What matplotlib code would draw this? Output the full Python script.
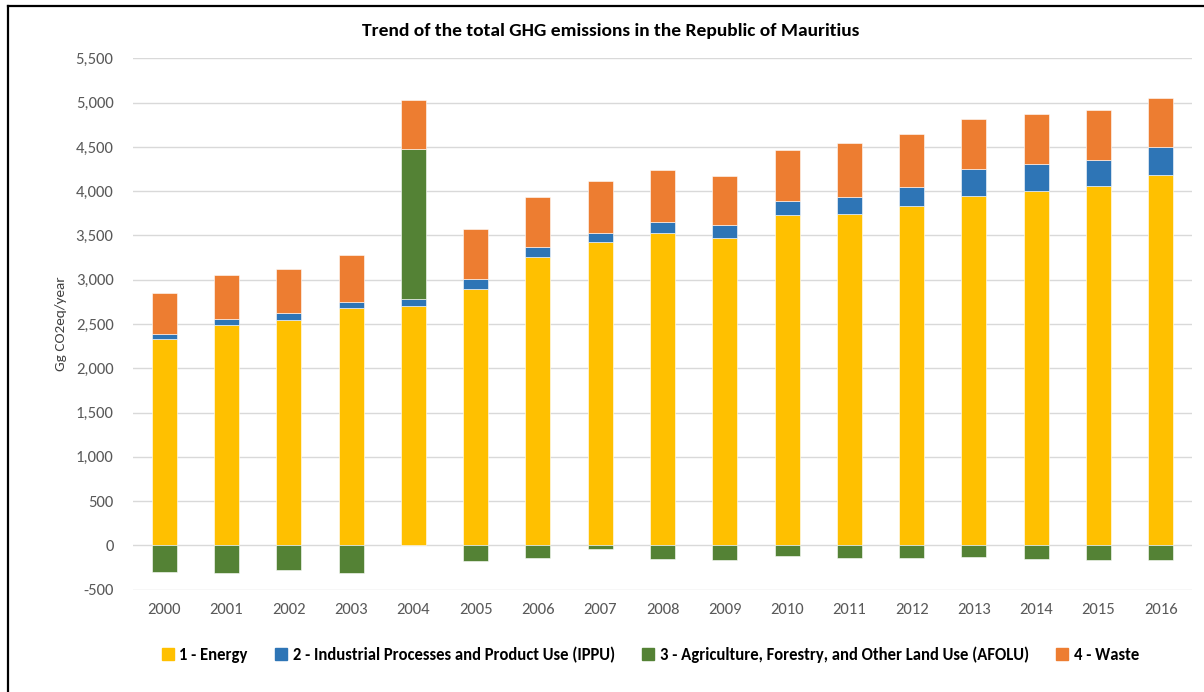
import numpy as np
import matplotlib
matplotlib.use('Agg')
from matplotlib import pyplot as plt
from matplotlib.lines import Line2D

plt.rcParams['font.family'] = ['Carlito', 'Open Sans', 'DejaVu Sans']

# GHG emissions by sector, Gg CO2eq/year
years = [str(y) for y in range(2000, 2017)]
energy = [2327, 2492, 2545, 2677, 2703, 2892, 3257, 3422, 3524, 3471, 3727, 3746, 3837, 3949, 4006, 4059, 4179]
ippu = [64, 64, 75, 75, 76, 112, 109, 102, 124, 143, 158, 188, 210, 298, 297, 297, 316]
afolu = [-305, -316, -275, -316, 1698, -181, -147, -45, -158, -166, -124, -147, -139, -132, -154, -162, -169]
waste = [459, 494, 497, 527, 549, 565, 568, 591, 591, 558, 584, 607, 599, 572, 569, 557, 554]

labels = ['1 - Energy', '2 - Industrial Processes and Product Use (IPPU)',
          '3 - Agriculture, Forestry, and Other Land Use (AFOLU)', '4 - Waste']
colors = ['#FFC000', '#2E75B6', '#548235', '#ED7D31']

energy = np.array(energy)
ippu = np.array(ippu)
afolu = np.array(afolu)
waste = np.array(waste)
x = np.arange(len(years))

fig = plt.figure(figsize=(12.04, 6.92), dpi=100)
ax = fig.add_axes([0.1105, 0.148, 0.8795, 0.7676])

w = 0.4
ec = dict(edgecolor='white', linewidth=0.4)
ax.bar(x, energy, w, color=colors[0], zorder=3, **ec)
ax.bar(x, ippu, w, bottom=energy, color=colors[1], zorder=3, **ec)
# positive AFOLU sits above IPPU, negative goes below zero
afolu_bottom = np.where(afolu >= 0, energy + ippu, 0)
ax.bar(x, afolu, w, bottom=afolu_bottom, color=colors[2], zorder=3, **ec)
ax.bar(x, waste, w, bottom=energy + ippu + np.clip(afolu, 0, None), color=colors[3], zorder=3, **ec)

ax.set_xlim(-0.5, len(years) - 0.5)
ax.set_ylim(-500, 5500)
ax.set_yticks(np.arange(-500, 5501, 500))
ax.set_yticklabels([f'{v:,}' for v in range(-500, 5501, 500)])
ax.set_xticks(x)
ax.set_xticklabels(years)
ax.grid(axis='y', color='#D9D9D9', linewidth=1.0, zorder=0)
for s in ax.spines.values():
    s.set_visible(False)
ax.tick_params(axis='both', length=0, labelsize=12, labelcolor='#595959')
ax.tick_params(axis='y', pad=14)
ax.tick_params(axis='x', pad=10)
ax.set_ylabel('Gg CO2eq/year', fontsize=11, color='#404040', labelpad=6)

fig.text(0.507, 0.955, 'Trend of the total GHG emissions in the Republic of Mauritius',
         ha='center', va='center', fontsize=14, fontweight='bold', color='black')

handles = [Line2D([], [], marker='s', linestyle='none', markersize=8, color=c) for c in colors]
fig.legend(handles, labels, loc='center', bbox_to_anchor=(0.54, 0.0535), ncol=4,
           frameon=False, handlelength=0.8, handletextpad=0.3, columnspacing=1.6,
           prop={'weight': 'bold', 'size': 12})

# frame lines along top and left
fig.add_artist(Line2D([8 / 1204, 1], [1 - 6 / 692, 1 - 6 / 692], color='black', linewidth=1.6,
                      transform=fig.transFigure))
fig.add_artist(Line2D([8 / 1204, 8 / 1204], [0, 1 - 6 / 692], color='black', linewidth=1.6,
                      transform=fig.transFigure))

fig.savefig('out.png', dpi=100)
